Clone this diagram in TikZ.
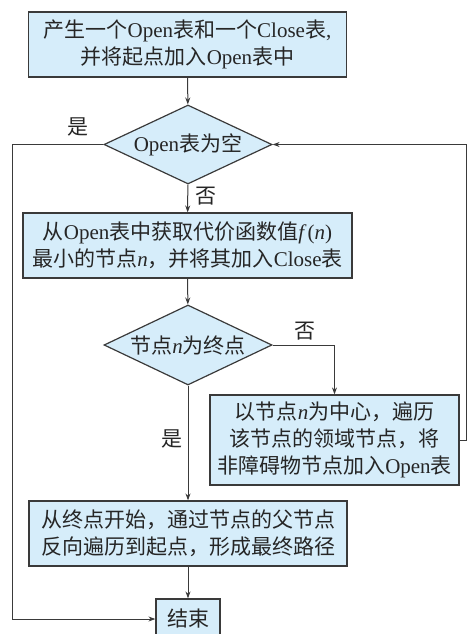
\documentclass[tikz,border=0pt]{standalone}
\usepackage{fontspec}
\setmainfont{Noto Sans CJK SC}
\newfontfamily\latin{Liberation Serif}
\newcommand{\en}[1]{{\latin #1}}
\newcommand{\vn}[1]{{\latin\itshape #1}}
\usetikzlibrary{arrows.meta}
\usetikzlibrary{shapes.geometric}
\definecolor{boxfill}{RGB}{214,237,250}
\definecolor{linegray}{RGB}{58,58,58}

\begin{document}
\begin{tikzpicture}[x=1pt, y=-1pt,
    every node/.style = {font=\fontsize{21}{27}\selectfont, text=black!85},
    box/.style = {draw=linegray, line width=1.2pt, fill=boxfill, align=center, inner sep=2pt},
    cond/.style = {draw=linegray, line width=1.2pt, fill=boxfill, diamond, aspect=2.1,
                   inner sep=0pt, minimum width=168pt, minimum height=79pt},
    link/.style = {draw=linegray, line width=1pt}]
    \useasboundingbox (0,0) rectangle (467,634);

    \node[box, minimum width=318pt, minimum height=65pt] (init) at (187.5,44.5)
        {产生一个\en{Open}表和一个\en{Close}表\en{,}\\并将起点加入\en{Open}表中};
    \node[cond] (empty) at (188,144.5) {\en{Open}表为空};

    \node[box, minimum width=329pt, minimum height=65pt] (pick) at (187.5,245.5)
        {从\en{Open}表中获取代价函数值\vn{f}\,\en{(}\vn{n}\en{)}\\最小的节点\vn{n}，并将其加入\en{Close}表};
    \node[cond, minimum height=80pt] (goal) at (188,345) {节点\vn{n}为终点};

    \node[box, minimum width=249pt, minimum height=90pt] (expand) at (334.5,440)
        {以节点\vn{n}为中心，遍历\\该节点的领域节点，将\\非障碍物节点加入\en{Open}表};
    \node[box, minimum width=318pt, minimum height=65pt] (path) at (188,533.5)
        {从终点开始，通过节点的父节点\\反向遍历到起点，形成最终路径};
    \node[box, minimum width=64pt, minimum height=40pt] (stop) at (188,619) {结束};

    \coordinate (lft) at (12,144.5);
    \coordinate (rgt) at (466,440);

    \node (yes1) at (78,127) {是};
    \node (no1) at (206,196) {否};
    \node (no2) at (305,331) {否};
    \node (yes2) at (172,439) {是};

    \draw[link, -{Stealth[length=7pt,width=5pt]}] (init) -- (empty);
    \draw[link, -{Stealth[length=7pt,width=5pt]}] (empty) -- (pick);
    \draw[link, -{Stealth[length=7pt,width=5pt]}] (pick) -- (goal);
    \draw[link, -{Stealth[length=7pt,width=5pt]}] (goal.east) -| (expand.north);
    \draw[link, -{Stealth[length=7pt,width=5pt]}] (goal) -- (path);
    \draw[link, -{Stealth[length=7pt,width=5pt]}] (path) -- (stop);
    \draw[link, -{Stealth[length=7pt,width=5pt]}] (empty.west) -- (lft) |- (stop.west);
    \draw[link, -{Stealth[length=7pt,width=5pt]}] (expand.east) -- (rgt) |- (empty.east);

\end{tikzpicture}
\end{document}
